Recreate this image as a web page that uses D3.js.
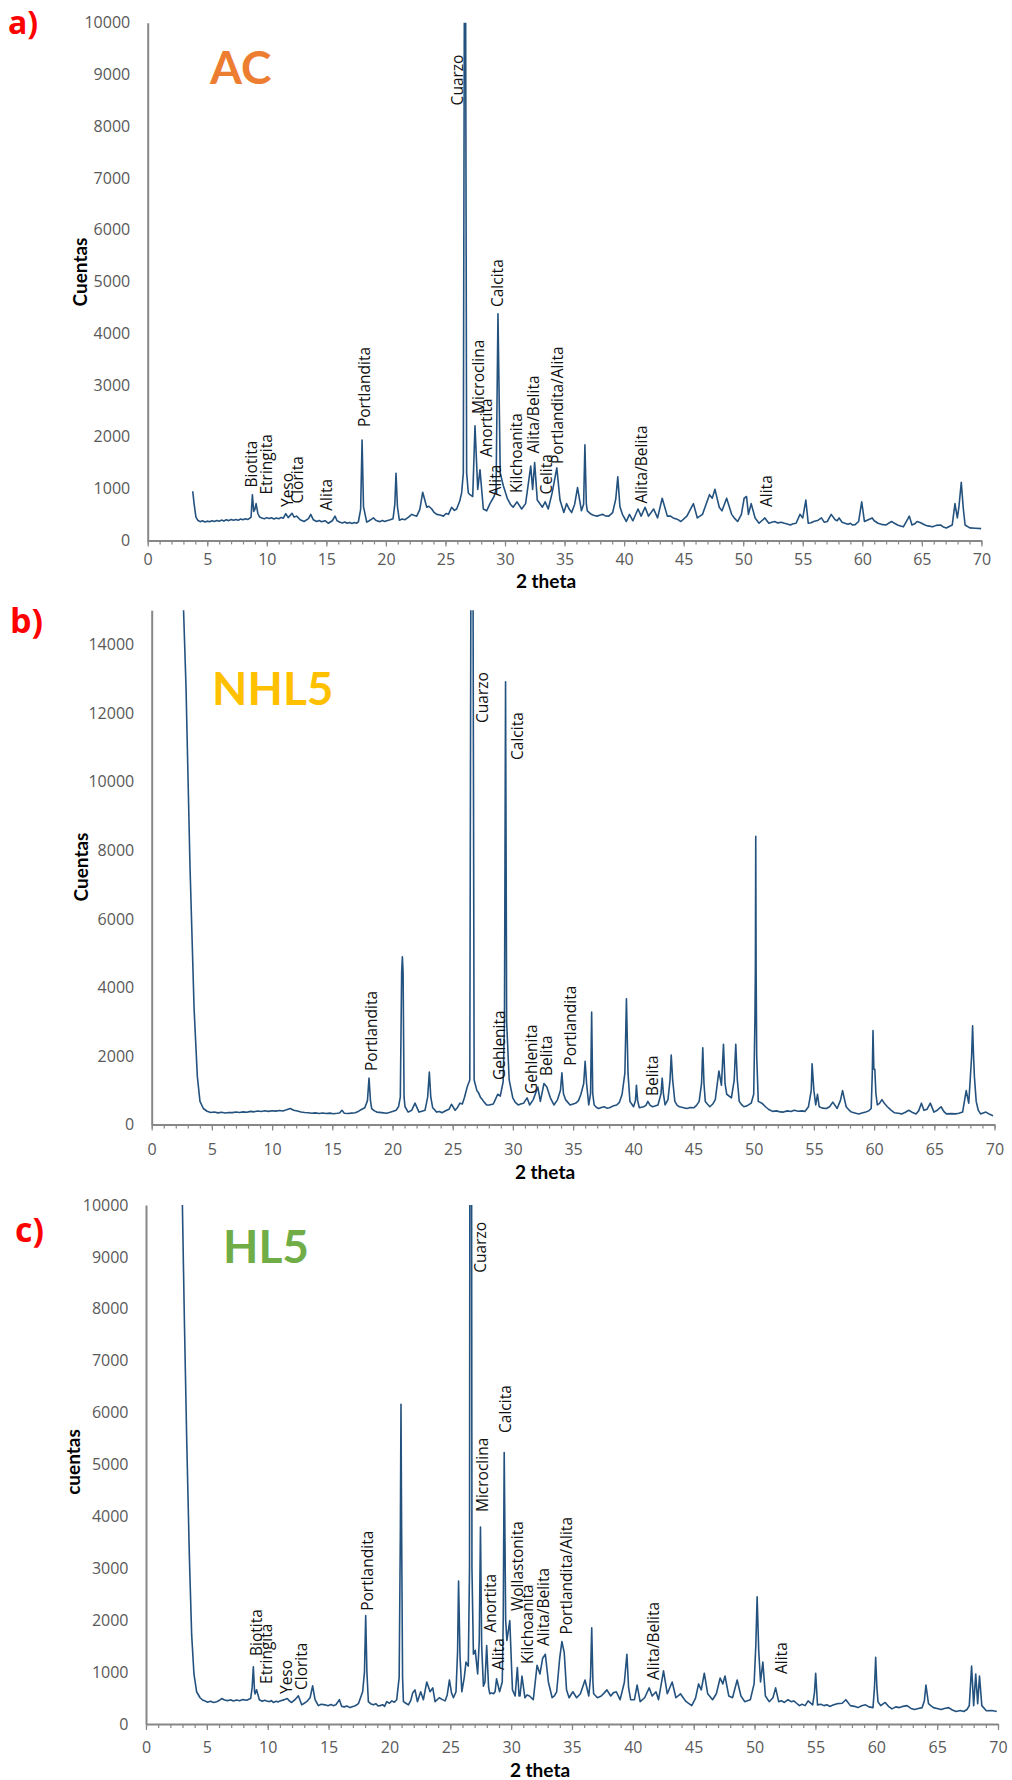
<!DOCTYPE html>
<html>
<head>
<meta charset="utf-8">
<script src="https://cdn.jsdelivr.net/npm/d3@7"></script>
<style>
  html, body { margin: 0; padding: 0; background: #fff; }
  svg { display: block; }
</style>
</head>
<body>
<div id="chart"></div>
<script>
// ---------------- DATA ----------------
const xTicks = [0, 5, 10, 15, 20, 25, 30, 35, 40, 45, 50, 55, 60, 65, 70];
const xMinorTicks = d3.range(0, 71, 1);
const yTicksAC = [0, 1000, 2000, 3000, 4000, 5000, 6000, 7000, 8000, 9000, 10000];
const yTicksNHL5 = [0, 2000, 4000, 6000, 8000, 10000, 12000, 14000];
const yTicksHL5 = [0, 1000, 2000, 3000, 4000, 5000, 6000, 7000, 8000, 9000, 10000];

// [2 theta, cuentas]
const acData = [
[3.78,950],[3.9,700],[4.05,450],[4.2,390],[4.4,362],[4.6,378],[4.8,355],[5.0,372],[5.2,360],[5.4,381],
[5.6,366],[5.8,384],[6.0,369],[6.2,392],[6.4,375],[6.6,398],[6.8,382],[7.0,404],[7.2,388],[7.4,402],
[7.6,391],[7.8,412],[8.0,398],[8.2,418],[8.4,405],[8.55,425],[8.68,450],[8.79,883],[8.9,560],[9.0,600],
[9.1,710],[9.25,520],[9.4,450],[9.57,434],[9.8,418],[10.0,440],[10.2,421],[10.4,436],[10.6,415],[10.8,432],
[11.0,420],[11.2,441],[11.39,428],[11.59,517],[11.8,440],[12.12,524],[12.3,450],[12.51,469],[12.8,400],[13.13,365],
[13.5,420],[13.69,503],[13.9,400],[14.19,365],[14.4,384],[14.6,360],[14.89,380],[15.17,331],[15.5,380],[15.73,469],
[15.9,380],[16.15,352],[16.35,338],[16.55,355],[16.75,330],[16.95,348],[17.15,326],[17.35,344],[17.55,333],[17.69,360],
[17.88,600],[18.0,1938],[18.12,650],[18.39,352],[18.6,380],[18.8,410],[18.95,434],[19.15,390],[19.35,372],[19.51,362],
[19.7,385],[19.9,366],[20.07,380],[20.3,395],[20.6,420],[20.75,700],[20.85,1297],[20.97,650],[21.13,390],[21.35,412],
[21.61,400],[21.9,450],[22.17,503],[22.4,480],[22.59,469],[22.85,600],[23.09,931],[23.43,641],[23.6,660],[23.85,607],
[24.05,540],[24.27,503],[24.55,490],[24.83,469],[25.05,520],[25.25,503],[25.52,641],[25.75,580],[25.94,607],[26.2,760],
[26.36,917],[26.5,1300],[26.64,16000],[26.78,1300],[26.92,917],[27.06,883],[27.29,848],[27.48,2214],[27.71,986],[27.9,1366],
[28.18,607],[28.46,572],[28.74,710],[29.08,848],[29.25,986],[29.41,4379],[29.6,1300],[29.86,1055],[30.19,814],[30.45,700],
[30.68,641],[31.01,745],[31.40,607],[31.73,710],[32.16,1434],[32.32,986],[32.49,1503],[32.71,779],[33.14,641],[33.37,745],
[33.63,607],[33.96,917],[34.35,1400],[34.62,779],[34.94,538],[35.17,710],[35.40,600],[35.60,538],[35.85,700],[36.09,1021],
[36.42,572],[36.6,700],[36.71,1848],[36.83,700],[36.91,572],[37.24,503],[37.5,480],[37.73,469],[38.0,490],[38.22,503],
[38.45,470],[38.71,469],[39.04,538],[39.3,800],[39.47,1228],[39.65,650],[39.86,503],[40.19,365],[40.45,503],[40.74,379],
[41.17,607],[41.43,469],[41.76,641],[42.05,469],[42.48,607],[42.81,434],[43.20,814],[43.63,469],[43.9,470],[44.12,434],
[44.45,410],[44.77,365],[45.27,469],[45.82,710],[46.15,434],[46.58,503],[47.17,883],[47.40,814],[47.63,986],[47.99,641],
[48.22,572],[48.61,814],[49.03,503],[49.3,420],[49.53,365],[49.85,503],[50.08,814],[50.28,848],[50.44,503],[50.67,710],
[51.00,434],[51.33,331],[51.82,434],[52.15,331],[52.4,352],[52.64,365],[52.9,338],[53.2,350],[53.46,331],[53.7,316],
[53.95,297],[54.2,322],[54.44,331],[54.77,503],[55.00,434],[55.26,779],[55.46,331],[55.7,340],[55.92,365],[56.3,390],
[56.57,434],[56.8,352],[57.06,365],[57.39,503],[57.72,400],[57.9,380],[58.05,434],[58.3,352],[58.54,331],[58.8,310],
[59.0,330],[59.19,297],[59.4,305],[59.69,365],[59.95,745],[60.18,365],[60.5,400],[60.83,434],[61.0,380],[61.32,331],
[61.6,310],[61.98,297],[62.2,330],[62.47,365],[62.7,330],[62.96,297],[63.2,280],[63.45,262],[63.95,469],[64.17,297],
[64.4,320],[64.60,365],[64.9,340],[65.26,297],[65.5,280],[65.91,262],[66.2,290],[66.57,297],[66.8,260],[67.06,241],
[67.3,270],[67.55,297],[67.78,710],[67.98,434],[68.11,641],[68.31,1124],[68.47,641],[68.63,297],[69.02,241],[69.5,236],
[70.0,228]
];

const nhl5Data = [
[2.6,15500],[2.85,12760],[3.18,7550],[3.52,3385],[3.79,1406],[4.01,677],[4.29,469],[4.6,390],[4.9,352],[5.2,366],
[5.5,342],[5.8,360],[6.1,338],[6.4,355],[6.7,349],[7.0,368],[7.3,352],[7.6,372],[7.9,360],[8.2,385],
[8.5,372],[8.8,398],[9.1,380],[9.4,402],[9.7,386],[10.0,404],[10.3,392],[10.6,410],[10.9,398],[11.2,432],
[11.5,469],[11.8,420],[12.1,398],[12.4,370],[12.7,352],[13.0,344],[13.3,330],[13.6,342],[13.9,326],[14.2,338],
[14.5,322],[14.8,334],[15.1,318],[15.4,330],[15.6,340],[15.8,417],[16.0,330],[16.3,322],[16.6,334],[16.9,345],
[17.1,372],[17.3,417],[17.7,490],[17.92,700],[18.05,1354],[18.17,700],[18.27,469],[18.5,400],[18.7,365],[19.1,350],
[19.5,333],[19.8,360],[20.0,380],[20.3,420],[20.5,520],[20.65,800],[20.76,4427],[20.82,4896],[20.88,4427],[20.96,800],
[21.04,520],[21.3,365],[21.6,420],[21.87,625],[22.2,365],[22.45,390],[22.7,417],[22.92,800],[23.06,1531],[23.18,800],
[23.34,490],[23.67,365],[23.9,380],[24.1,344],[24.3,380],[24.5,417],[24.7,450],[24.9,594],[25.2,417],[25.4,500],
[25.6,625],[25.8,600],[25.97,781],[26.2,1094],[26.42,1300],[26.6,30000],[26.78,1300],[27.01,990],[27.13,938],[27.3,800],
[27.46,729],[27.65,640],[27.82,573],[28.05,573],[28.37,600],[28.5,700],[28.74,885],[28.95,833],[29.19,1250],[29.3,3000],
[29.39,12917],[29.48,3000],[29.69,1302],[29.99,781],[30.2,650],[30.44,573],[30.65,600],[30.88,620],[31.18,781],[31.39,573],
[31.69,729],[32.07,1094],[32.28,677],[32.58,1198],[32.82,1094],[33.11,781],[33.41,573],[33.71,729],[33.95,1000],[34.07,1510],
[34.2,900],[34.37,729],[34.75,573],[35.0,600],[35.2,620],[35.45,700],[35.65,885],[35.88,1200],[36.0,1844],[36.12,1200],
[36.3,573],[36.45,900],[36.54,3281],[36.63,900],[36.75,573],[36.95,500],[37.13,469],[37.35,500],[37.58,521],[37.8,480],
[38.03,490],[38.3,540],[38.62,573],[38.85,650],[39.07,885],[39.3,1500],[39.43,3667],[39.56,1500],[39.72,677],[40.02,521],
[40.18,700],[40.26,1146],[40.36,700],[40.5,490],[40.86,521],[41.05,560],[41.21,677],[41.4,560],[41.6,521],[41.8,540],
[42.05,573],[42.3,900],[42.4,1354],[42.5,900],[42.64,573],[42.88,729],[43.05,1300],[43.15,2031],[43.27,1300],[43.45,677],
[43.65,560],[43.83,521],[44.1,500],[44.43,469],[44.75,500],[45.02,490],[45.25,560],[45.47,677],[45.67,1200],[45.77,2240],
[45.87,1200],[45.98,677],[46.15,600],[46.36,521],[46.6,600],[46.81,729],[47.11,1563],[47.32,1146],[47.49,2344],[47.62,1200],
[47.76,885],[48.15,781],[48.38,1300],[48.51,2344],[48.64,1300],[48.8,677],[49.0,580],[49.19,521],[49.5,560],[49.79,625],
[50.0,885],[50.1,3000],[50.14,4583],[50.17,8406],[50.2,4583],[50.25,2000],[50.38,677],[50.68,625],[50.98,521],[51.25,440],
[51.57,385],[51.9,400],[52.2,370],[52.47,365],[52.8,400],[53.1,380],[53.36,417],[53.7,390],[54.0,400],[54.25,385],
[54.55,521],[54.78,1000],[54.85,1771],[55.0,990],[55.15,573],[55.3,885],[55.44,521],[55.7,480],[56.04,469],[56.3,520],
[56.57,656],[56.93,469],[57.2,700],[57.38,990],[57.68,521],[57.9,430],[58.12,365],[58.4,340],[58.72,312],[59.0,340],
[59.31,365],[59.55,400],[59.76,469],[59.85,1500],[59.91,2740],[59.98,1615],[60.06,1615],[60.15,900],[60.27,573],[60.45,620],
[60.65,729],[60.85,620],[61.1,521],[61.4,420],[61.7,344],[62.0,330],[62.29,312],[62.6,360],[62.89,417],[63.2,350],
[63.48,312],[63.7,400],[63.93,625],[64.14,417],[64.4,450],[64.67,625],[64.97,365],[65.25,420],[65.56,521],[65.8,380],
[66.01,312],[66.4,320],[66.75,312],[67.05,330],[67.35,365],[67.65,990],[67.86,625],[68.0,1406],[68.1,2000],[68.18,2885],
[68.26,2000],[68.33,1406],[68.48,677],[68.65,420],[68.84,312],[69.05,340],[69.29,365],[69.6,300],[69.88,260]
];

const hl5Data = [
[2.9,11500],[2.99,10000],[3.15,7820],[3.34,5536],[3.56,3250],[3.75,1726],[3.94,964],[4.16,621],[4.44,506],[4.65,462],
[4.85,445],[5.05,420],[5.3,438],[5.55,415],[5.81,430],[6.0,452],[6.22,491],[6.45,462],[6.7,450],[6.95,468],
[7.18,445],[7.45,462],[7.7,448],[7.95,470],[8.27,458],[8.45,476],[8.6,491],[8.72,700],[8.82,1100],[8.92,620],
[8.96,580],[9.09,658],[9.31,468],[9.55,440],[9.75,458],[9.92,445],[10.15,430],[10.3,452],[10.46,415],[10.7,438],
[10.85,425],[11.01,445],[11.25,460],[11.45,475],[11.61,491],[11.8,440],[11.97,415],[12.24,468],[12.52,544],[12.79,369],
[13.0,400],[13.2,430],[13.48,506],[13.69,734],[13.89,468],[14.16,354],[14.4,380],[14.71,369],[14.95,352],[15.2,375],
[15.39,354],[15.6,372],[15.89,468],[16.08,339],[16.3,330],[16.5,345],[16.76,316],[17.0,338],[17.2,352],[17.45,392],
[17.8,621],[17.95,1000],[18.05,2090],[18.15,1000],[18.27,430],[18.45,392],[18.68,369],[18.9,390],[19.05,350],[19.23,354],
[19.45,372],[19.6,340],[19.78,430],[20.0,400],[20.2,445],[20.4,420],[20.6,468],[20.8,900],[20.9,3781],[20.95,6159],
[21.0,3781],[21.08,900],[21.15,430],[21.35,400],[21.56,369],[21.75,450],[21.91,597],[22.1,658],[22.3,430],[22.57,621],
[22.79,468],[23.07,810],[23.34,621],[23.56,696],[23.75,430],[24.1,506],[24.35,470],[24.57,445],[24.75,560],[24.93,848],
[25.1,600],[25.26,506],[25.47,621],[25.6,1400],[25.68,2753],[25.8,1300],[25.95,621],[26.15,900],[26.29,1192],[26.48,1116],
[26.58,3000],[26.68,30000],[26.78,3000],[26.9,1344],[27.05,1420],[27.25,964],[27.38,1600],[27.48,3797],[27.58,1500],[27.72,730],
[27.85,810],[27.99,1512],[28.15,700],[28.25,582],[28.4,600],[28.56,582],[28.68,621],[28.8,872],[29.05,621],[29.27,810],
[29.35,2000],[29.43,5229],[29.55,2000],[29.65,1610],[29.89,1991],[30.05,1000],[30.11,658],[30.33,540],[30.51,1090],[30.65,540],
[30.73,540],[30.89,922],[31.13,506],[31.3,560],[31.51,540],[31.82,468],[32.13,1131],[32.37,964],[32.59,1268],[32.81,1344],
[33.06,810],[33.37,506],[33.55,540],[33.74,621],[33.99,1268],[34.17,1588],[34.36,1380],[34.55,658],[34.76,506],[35.07,621],
[35.38,506],[35.69,582],[36.07,848],[36.38,540],[36.52,900],[36.62,1853],[36.72,800],[36.78,582],[37.09,506],[37.4,540],
[37.65,600],[37.87,658],[38.18,540],[38.4,600],[38.64,621],[38.95,468],[39.3,800],[39.51,1344],[39.65,700],[39.82,468],
[40.13,468],[40.35,750],[40.6,430],[40.97,506],[41.34,696],[41.59,540],[41.9,621],[42.11,468],[42.52,1024],[42.83,582],
[43.23,810],[43.54,506],[43.91,582],[44.15,500],[44.38,430],[44.84,354],[45.15,500],[45.4,772],[45.62,658],[45.87,978],
[46.15,582],[46.55,468],[46.86,582],[47.17,887],[47.39,772],[47.57,925],[47.88,540],[48.19,506],[48.57,848],[48.88,540],
[49.19,430],[49.65,468],[49.96,772],[50.1,1500],[50.21,2449],[50.34,1420],[50.49,810],[50.68,1192],[50.89,540],[51.2,430],
[51.51,506],[51.73,696],[51.98,430],[52.2,450],[52.45,415],[52.75,468],[53.0,430],[53.22,445],[53.45,400],[53.69,354],
[53.9,380],[54.15,354],[54.4,445],[54.77,369],[54.92,600],[55.02,978],[55.17,369],[55.45,380],[55.7,354],[55.95,370],
[56.17,339],[56.5,370],[56.79,392],[57.2,400],[57.5,468],[57.87,354],[58.2,340],[58.49,316],[58.8,350],[59.11,369],
[59.4,330],[59.73,316],[59.85,700],[59.95,1283],[60.05,700],[60.14,430],[60.36,354],[60.73,415],[61.0,340],[61.29,291],
[61.6,330],[61.91,316],[62.2,340],[62.53,354],[62.85,300],[63.15,278],[63.45,300],[63.77,316],[63.95,450],[64.08,750],
[64.29,392],[64.5,350],[64.7,316],[65.0,300],[65.32,278],[65.6,300],[65.94,316],[66.25,270],[66.56,240],[66.9,260],
[67.18,240],[67.45,280],[67.64,354],[67.83,1116],[68.0,354],[68.17,964],[68.33,392],[68.48,925],[68.67,354],[69.04,254],
[69.5,260],[69.9,240]
];

// [mineral, 2 theta, cuentas] : where each rotated label starts
const acLabels = [
["Cuarzo",26.0,8403],["Calcita",29.41,4508],["Microclina",27.78,2442],["Anortita",28.46,1611],
["Alita",29.21,850],["Kilchoanita",31.01,916],["Alita/Belita",32.39,1677],["Celita",33.48,885],
["Portlandita/Alita",34.45,1476],["Alita/Belita",41.50,711],["Alita",52.0,645],["Portlandita",18.25,2190],
["Biotita",8.73,1022],["Etringita",9.99,885],["Yeso",11.72,645],["Clorita",12.59,711],["Alita",15.03,574]
];
const nhl5Labels = [
["Portlandita",18.27,1563],["Cuarzo",27.46,11713],["Calcita",30.42,10634],["Gehlenita",28.93,1301],
["Gehlenita",31.56,892],["Belita",32.82,1417],["Portlandita",34.83,1718],["Belita",41.59,834]
];
const hl5Labels = [
["Cuarzo",27.48,8696],["Microclina",27.63,4085],["Calcita",29.58,5607],["Anortita",28.32,1763],
["Alita",28.96,1040],["Wollastonita",30.52,2177],["Kilchoanita",31.36,1156],["Alita/Belita",32.69,1503],
["Portlandita/Alita",34.55,1724],["Alita/Belita",41.74,848],["Alita",52.23,963],["Portlandita",18.18,2181],
["Biotita",9.10,1310],["Etringita",9.92,771],["Yeso",11.56,578],["Clorita",12.79,655]
];

const panelLetters = ["a)", "b)", "c)"];
const sampleNames = ["AC", "NHL5", "HL5"];
const yTitles = ["Cuentas", "Cuentas", "cuentas"];
const xTitle = "2 theta";
const yMaxima = [10000, 15000, 10000];

// ---------------- LAYOUT ----------------
const W = 1012, H = 1780;
const layout = [
  {left:147.7, right:981.4, top:22.7, bottom:540.4, letterX:8, letterY:34, letterSize:32,
   nameX:210, nameY:84, nameColor:"#ED7D31", yTitleX:80, yTitleY:272, xLabOff:19, xTitleX:546, xTitleY:588},
  {left:151.7, right:994.5, top:610.3, bottom:1124.6, letterX:10, letterY:633, letterSize:34,
   nameX:212, nameY:705, nameColor:"#FFC000", yTitleX:81, yTitleY:867, xLabOff:25, xTitleX:545, xTitleY:1179},
  {left:146, right:998, top:1205, bottom:1724, letterX:15, letterY:1242, letterSize:34,
   nameX:223, nameY:1263, nameColor:"#70AD47", yTitleX:73, yTitleY:1462, xLabOff:23, xTitleX:540, xTitleY:1777}
];
const datasets = [acData, nhl5Data, hl5Data];
const labelsets = [acLabels, nhl5Labels, hl5Labels];
const ytickSets = [yTicksAC, yTicksNHL5, yTicksHL5];

const axisColor = "#878787";
const lineColor = "#24527F";
const tickFont = "'Open Sans', 'Lato', sans-serif";

const svg = d3.select("#chart").append("svg")
  .attr("width", W).attr("height", H)
  .attr("viewBox", `0 0 ${W} ${H}`);
svg.append("rect").attr("width", W).attr("height", H).attr("fill", "#fff");

layout.forEach((L, i) => {
  const g = svg.append("g");
  const x = d3.scaleLinear().domain([0, 70]).range([L.left, L.right]);
  const y = d3.scaleLinear().domain([0, yMaxima[i]]).range([L.bottom, L.top]);

  const clipId = "clip" + i;
  svg.append("defs").append("clipPath").attr("id", clipId)
    .append("rect").attr("x", L.left).attr("y", L.top)
    .attr("width", L.right - L.left).attr("height", L.bottom - L.top);

  const line = d3.line().x(d => x(d[0])).y(d => y(d[1]));
  g.append("path")
    .datum(datasets[i])
    .attr("clip-path", `url(#${clipId})`)
    .attr("d", line)
    .attr("fill", "none")
    .attr("stroke", lineColor)
    .attr("stroke-width", 1.6)
    .attr("stroke-linejoin", "round");

  const xMinor = g.append("g").attr("transform", `translate(0,${L.bottom})`)
    .call(d3.axisBottom(x).tickValues(xMinorTicks).tickSize(4).tickFormat(""));
  xMinor.select(".domain").remove();
  xMinor.selectAll("line").attr("stroke", axisColor).attr("stroke-width", 1.2);

  const majorSize = 6;
  const xAx = g.append("g").attr("transform", `translate(0,${L.bottom})`)
    .call(d3.axisBottom(x).tickValues(xTicks).tickSize(majorSize).tickSizeOuter(0)
      .tickPadding(L.xLabOff - 5.7 - majorSize).tickFormat(d3.format("d")));
  xAx.select(".domain").attr("stroke", axisColor).attr("stroke-width", 2);
  xAx.selectAll("line").attr("stroke", axisColor).attr("stroke-width", 1.2);
  xAx.selectAll("text").attr("fill", "#595959")
    .style("font-family", tickFont).style("font-size", "16px");

  const yAx = g.append("g").attr("transform", `translate(${L.left},0)`)
    .call(d3.axisLeft(y).tickValues(ytickSets[i]).tickSize(0).tickSizeOuter(0)
      .tickPadding(17.5).tickFormat(d3.format("d")));
  yAx.select(".domain").attr("stroke", axisColor).attr("stroke-width", 2);
  yAx.selectAll("text").attr("fill", "#595959")
    .style("font-family", tickFont).style("font-size", "16px");

  g.append("text")
    .attr("transform", `translate(${L.yTitleX},${L.yTitleY}) rotate(-90)`)
    .attr("text-anchor", "middle").attr("dy", "0.35em")
    .style("font-family", "'Lato', sans-serif").style("font-weight", "bold").style("font-size", "19px")
    .attr("fill", "#000").text(yTitles[i]);
  g.append("text")
    .attr("x", L.xTitleX).attr("y", L.xTitleY)
    .attr("text-anchor", "middle")
    .style("font-family", "'Lato', sans-serif").style("font-weight", "bold").style("font-size", "19px")
    .attr("fill", "#000").text(xTitle);

  g.append("text").attr("x", L.letterX).attr("y", L.letterY)
    .style("font-family", "'Open Sans', sans-serif").style("font-weight", "bold")
    .style("font-size", L.letterSize + "px").attr("fill", "#FF0000").text(panelLetters[i]);

  g.append("text").attr("x", L.nameX).attr("y", L.nameY)
    .style("font-family", "'Lato', sans-serif").style("font-weight", "bold")
    .style("font-size", "46px").attr("fill", L.nameColor).text(sampleNames[i]);

  g.append("g").selectAll("text").data(labelsets[i]).join("text")
    .attr("transform", d => `translate(${x(d[1])},${y(d[2])}) rotate(-90)`)
    .attr("text-anchor", "start").attr("dy", "0.35em")
    .style("font-family", "'Open Sans', sans-serif").style("font-size", "15.5px")
    .attr("fill", "#111").text(d => d[0]);
});
</script>
</body>
</html>
